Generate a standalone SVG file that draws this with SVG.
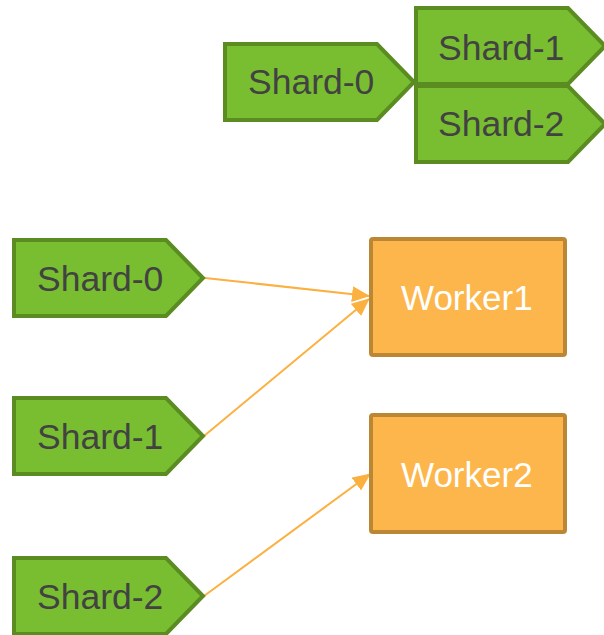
<svg xmlns="http://www.w3.org/2000/svg" width="604" height="635" viewBox="0 0 604 635">
  <style>
    .shard { fill: #78BE30; stroke: #5A8C22; stroke-width: 4; stroke-linejoin: miter; }
    .shard-label { font-family: "Liberation Sans", Arial, sans-serif; font-size: 35.5px; fill: #424242; }
    .worker { fill: #FDB64C; stroke: #BC8735; stroke-width: 4; }
    .worker-label { font-family: "Liberation Sans", Arial, sans-serif; font-size: 35px; fill: #FFFFFF; }
    .link { stroke: #FBB040; stroke-width: 2; fill: none; }
  </style>
  <defs>
    <!-- pentagon tag shape: 189 x 76, shoulder at 152 -->
    <path id="tag" d="M0,0 H152 L189,38 L152,76 H0 Z"/>
    <marker id="arrow" markerUnits="userSpaceOnUse" markerWidth="18" markerHeight="16" viewBox="0 0 18 16" refX="17" refY="8" orient="auto">
      <path d="M0,0 L18,8 L0,16 Z" fill="#FBB040"/>
    </marker>
  </defs>

  <!-- split example -->
  <g id="top-shard-0">
    <use href="#tag" class="shard" x="225" y="44"/>
    <text class="shard-label" x="248" y="94">Shard-0</text>
  </g>
  <g id="top-shard-1">
    <use href="#tag" class="shard" x="416" y="8"/>
    <text class="shard-label" x="438" y="60">Shard-1</text>
  </g>
  <g id="top-shard-2">
    <use href="#tag" class="shard" x="416" y="86"/>
    <text class="shard-label" x="438" y="136">Shard-2</text>
  </g>

  <!-- shard to worker assignment -->
  <g id="connectors">
    <line class="link" x1="205" y1="278" x2="369" y2="296" marker-end="url(#arrow)"/>
    <line class="link" x1="204" y1="436" x2="369" y2="299" marker-end="url(#arrow)"/>
    <line class="link" x1="204" y1="596" x2="370" y2="474" marker-end="url(#arrow)"/>
  </g>

  <g id="shard-0">
    <use href="#tag" class="shard" x="14" y="240"/>
    <text class="shard-label" x="37" y="291">Shard-0</text>
  </g>
  <g id="shard-1">
    <use href="#tag" class="shard" x="14" y="398"/>
    <text class="shard-label" x="37" y="449">Shard-1</text>
  </g>
  <g id="shard-2">
    <use href="#tag" class="shard" x="14" y="558"/>
    <text class="shard-label" x="37" y="609">Shard-2</text>
  </g>

  <g id="worker1">
    <rect class="worker" x="371" y="239" width="194" height="116" rx="2"/>
    <text class="worker-label" x="401" y="310">Worker1</text>
  </g>
  <g id="worker2">
    <rect class="worker" x="371" y="415" width="194" height="117" rx="2"/>
    <text class="worker-label" x="401" y="487">Worker2</text>
  </g>
</svg>
